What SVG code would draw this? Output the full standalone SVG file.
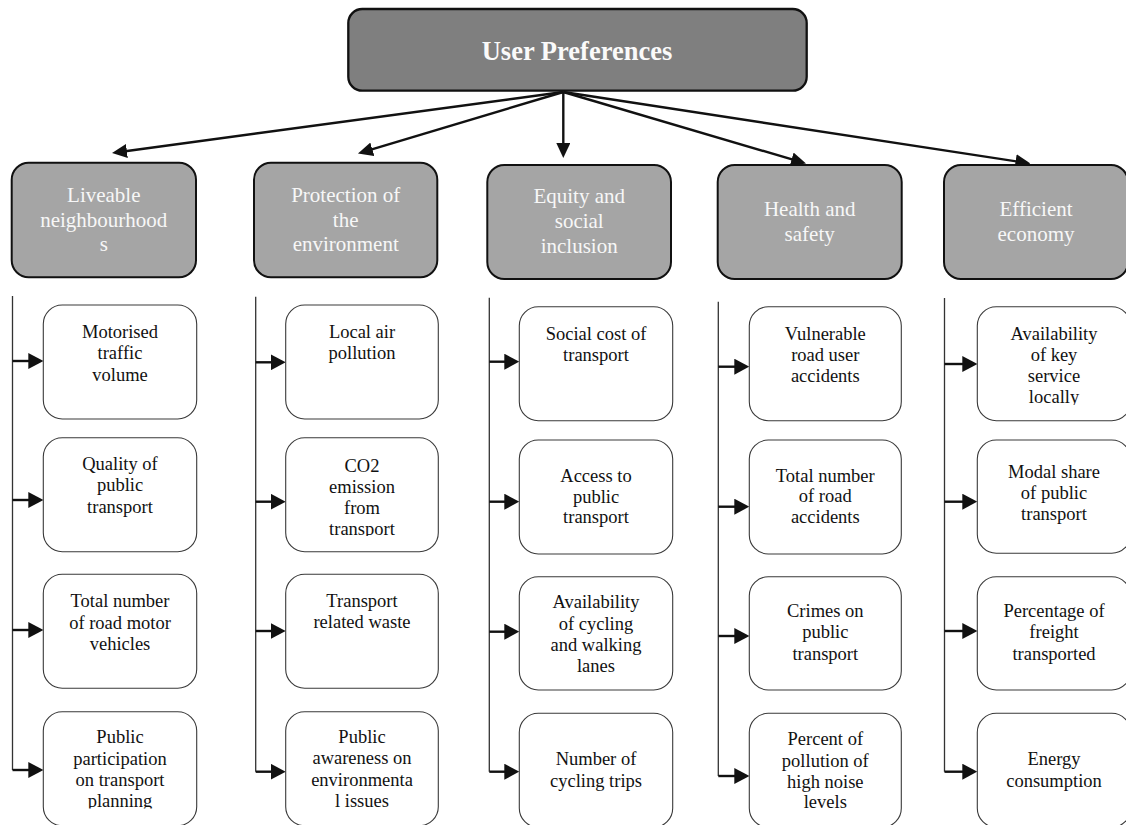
<svg xmlns="http://www.w3.org/2000/svg" width="1126" height="825" viewBox="0 0 1126 825">
<defs>
<style>
.top{fill:#7f7f7f;stroke:#111;stroke-width:2.3}
.cat{fill:#a5a5a5;stroke:#111;stroke-width:2}
.sub{fill:#fff;stroke:#3a3a3a;stroke-width:1.1}
.tt{font-family:"Liberation Serif","Times New Roman",serif;font-weight:bold;font-size:26.5px;fill:#fafafa;text-anchor:middle}
.ct{font-family:"Liberation Serif","Times New Roman",serif;font-size:21px;fill:#f7f7f7;text-anchor:middle}
.st{font-family:"Liberation Serif","Times New Roman",serif;font-size:18.5px;fill:#111;text-anchor:middle}
.main{fill:none;stroke:#111;stroke-width:2.4}
.vl{fill:none;stroke:#333;stroke-width:1.3}
.hl{fill:none;stroke:#111;stroke-width:2.4}
</style>
<marker id="ah" markerUnits="userSpaceOnUse" viewBox="0 0 15 14" markerWidth="15" markerHeight="14" refX="11" refY="7" orient="auto"><path d="M0,0 L15,7 L0,14 z" fill="#111"/></marker>
<marker id="ah2" markerUnits="userSpaceOnUse" viewBox="0 0 15 16" markerWidth="15" markerHeight="16" refX="11" refY="8" orient="auto"><path d="M0,0 L15,8 L0,16 z" fill="#111"/></marker>
<clipPath id="clipA4"><rect x="43" y="711" width="154" height="97.5"/></clipPath>
<clipPath id="clipB2"><rect x="285" y="437" width="154" height="99"/></clipPath>
<clipPath id="clipE1"><rect x="977" y="306" width="154" height="99"/></clipPath>
</defs>

<g id="connectors">
<path class="main" d="M563.3,92 L116,152.5" marker-end="url(#ah)"/>
<path class="main" d="M563.3,92 L361.8,152.4" marker-end="url(#ah)"/>
<path class="main" d="M563.3,92 L563.3,154" marker-end="url(#ah)"/>
<path class="main" d="M563.3,92 L802.2,162.4" marker-end="url(#ah)"/>
<path class="main" d="M563.3,92 L1026.5,162.9" marker-end="url(#ah)"/>

<path class="vl" d="M12.5,296 V770"/>
<path class="hl" d="M12.5,361 H39.3" marker-end="url(#ah2)"/>
<path class="hl" d="M12.5,500 H39.3" marker-end="url(#ah2)"/>
<path class="hl" d="M12.5,630 H39.3" marker-end="url(#ah2)"/>
<path class="hl" d="M12.5,770 H39.3" marker-end="url(#ah2)"/>

<path class="vl" d="M255.7,296.7 V771.7"/>
<path class="hl" d="M255.7,362.3 H281.7" marker-end="url(#ah2)"/>
<path class="hl" d="M255.7,501.7 H281.7" marker-end="url(#ah2)"/>
<path class="hl" d="M255.7,631 H281.7" marker-end="url(#ah2)"/>
<path class="hl" d="M255.7,771.7 H281.7" marker-end="url(#ah2)"/>

<path class="vl" d="M489.3,297.7 V771.7"/>
<path class="hl" d="M489.3,361.7 H515.3" marker-end="url(#ah2)"/>
<path class="hl" d="M489.3,501.7 H515.3" marker-end="url(#ah2)"/>
<path class="hl" d="M489.3,631.7 H515.3" marker-end="url(#ah2)"/>
<path class="hl" d="M489.3,771.7 H515.3" marker-end="url(#ah2)"/>

<path class="vl" d="M718.3,301.7 V776"/>
<path class="hl" d="M718.3,366.7 H745.3" marker-end="url(#ah2)"/>
<path class="hl" d="M718.3,506.7 H745.3" marker-end="url(#ah2)"/>
<path class="hl" d="M718.3,636 H745.3" marker-end="url(#ah2)"/>
<path class="hl" d="M718.3,776 H745.3" marker-end="url(#ah2)"/>

<path class="vl" d="M944.5,298 V771.7"/>
<path class="hl" d="M944.5,364 H973.3" marker-end="url(#ah2)"/>
<path class="hl" d="M944.5,501.7 H973.3" marker-end="url(#ah2)"/>
<path class="hl" d="M944.5,631 H973.3" marker-end="url(#ah2)"/>
<path class="hl" d="M944.5,771.7 H973.3" marker-end="url(#ah2)"/>
</g>

<g id="user-preferences">
<rect class="top" x="348.3" y="9" width="458.4" height="81.7" rx="14"/>
<text class="tt" x="577" y="60">User Preferences</text>
</g>

<g id="liveable">
<rect class="cat" x="11.7" y="162.7" width="184.3" height="114.6" rx="17"/>
<text class="ct"><tspan x="103.8" y="201.7">Liveable</tspan><tspan x="103.8" y="226.7">neighbourhood</tspan><tspan x="103.8" y="251">s</tspan></text>
</g>
<g id="protection">
<rect class="cat" x="254" y="162.7" width="183.3" height="114.6" rx="17"/>
<text class="ct"><tspan x="345.7" y="201.7">Protection of</tspan><tspan x="345.7" y="226.7">the</tspan><tspan x="345.7" y="251">environment</tspan></text>
</g>
<g id="equity">
<rect class="cat" x="487.3" y="165" width="183.7" height="114" rx="17"/>
<text class="ct"><tspan x="579.2" y="203.3">Equity and</tspan><tspan x="579.2" y="228.3">social</tspan><tspan x="579.2" y="253.3">inclusion</tspan></text>
</g>
<g id="health">
<rect class="cat" x="717.7" y="165" width="184" height="114" rx="17"/>
<text class="ct"><tspan x="809.7" y="215.7">Health and</tspan><tspan x="809.7" y="240.7">safety</tspan></text>
</g>
<g id="efficient">
<rect class="cat" x="944" y="165" width="184" height="114" rx="17"/>
<text class="ct"><tspan x="1036" y="215.7">Efficient</tspan><tspan x="1036" y="240.7">economy</tspan></text>
</g>

<g id="a1"><rect class="sub" x="43.3" y="305" width="153.4" height="114" rx="19"/>
<text class="st"><tspan x="120" y="338">Motorised</tspan><tspan x="120" y="359">traffic</tspan><tspan x="120" y="380.5">volume</tspan></text></g>
<g id="a2"><rect class="sub" x="43.3" y="437.7" width="153.4" height="114" rx="19"/>
<text class="st"><tspan x="120" y="470">Quality of</tspan><tspan x="120" y="491">public</tspan><tspan x="120" y="512.5">transport</tspan></text></g>
<g id="a3"><rect class="sub" x="43.3" y="574.3" width="153.4" height="114" rx="19"/>
<text class="st"><tspan x="120" y="607.3">Total number</tspan><tspan x="120" y="628.7">of road motor</tspan><tspan x="120" y="649.5">vehicles</tspan></text></g>
<g id="a4"><rect class="sub" x="43.3" y="711.7" width="153.4" height="114" rx="19"/>
<text class="st" clip-path="url(#clipA4)"><tspan x="120" y="743.3">Public</tspan><tspan x="120" y="764.5">participation</tspan><tspan x="120" y="786">on transport</tspan><tspan x="120" y="806.7">planning</tspan></text></g>

<g id="b1"><rect class="sub" x="285.7" y="305" width="152.6" height="114" rx="19"/>
<text class="st"><tspan x="362" y="338">Local air</tspan><tspan x="362" y="358.5">pollution</tspan></text></g>
<g id="b2"><rect class="sub" x="285.7" y="437.7" width="152.6" height="114" rx="19"/>
<text class="st" clip-path="url(#clipB2)"><tspan x="362" y="471.7">CO2</tspan><tspan x="362" y="492.7">emission</tspan><tspan x="362" y="514">from</tspan><tspan x="362" y="534.5">transport</tspan></text></g>
<g id="b3"><rect class="sub" x="285.7" y="574.3" width="152.6" height="114" rx="19"/>
<text class="st"><tspan x="362" y="607.3">Transport</tspan><tspan x="362" y="628.3">related waste</tspan></text></g>
<g id="b4"><rect class="sub" x="285.7" y="711.7" width="152.6" height="114" rx="19"/>
<text class="st"><tspan x="362" y="743.3">Public</tspan><tspan x="362" y="764.3">awareness on</tspan><tspan x="362" y="786">environmenta</tspan><tspan x="362" y="806.7">l issues</tspan></text></g>

<g id="c1"><rect class="sub" x="519.3" y="306.7" width="153.4" height="114" rx="19"/>
<text class="st"><tspan x="596" y="340">Social cost of</tspan><tspan x="596" y="360.5">transport</tspan></text></g>
<g id="c2"><rect class="sub" x="519.3" y="440" width="153.4" height="114" rx="19"/>
<text class="st"><tspan x="596" y="481.7">Access to</tspan><tspan x="596" y="502.7">public</tspan><tspan x="596" y="523.3">transport</tspan></text></g>
<g id="c3"><rect class="sub" x="519.3" y="576.7" width="153.4" height="113.3" rx="19"/>
<text class="st"><tspan x="596" y="608.3">Availability</tspan><tspan x="596" y="629.7">of cycling</tspan><tspan x="596" y="651">and walking</tspan><tspan x="596" y="671.7">lanes</tspan></text></g>
<g id="c4"><rect class="sub" x="519.3" y="713.3" width="153.4" height="114" rx="19"/>
<text class="st"><tspan x="596" y="765">Number of</tspan><tspan x="596" y="786.5">cycling trips</tspan></text></g>

<g id="d1"><rect class="sub" x="749.3" y="306.7" width="152" height="114" rx="19"/>
<text class="st"><tspan x="825.3" y="340">Vulnerable</tspan><tspan x="825.3" y="361">road user</tspan><tspan x="825.3" y="381.7">accidents</tspan></text></g>
<g id="d2"><rect class="sub" x="749.3" y="440" width="152" height="114" rx="19"/>
<text class="st"><tspan x="825.3" y="481.7">Total number</tspan><tspan x="825.3" y="502.3">of road</tspan><tspan x="825.3" y="522.7">accidents</tspan></text></g>
<g id="d3"><rect class="sub" x="749.3" y="576.7" width="152" height="113.3" rx="19"/>
<text class="st"><tspan x="825.3" y="616.7">Crimes on</tspan><tspan x="825.3" y="638.3">public</tspan><tspan x="825.3" y="659.7">transport</tspan></text></g>
<g id="d4"><rect class="sub" x="749.3" y="713.3" width="152" height="114" rx="19"/>
<text class="st"><tspan x="825.3" y="745">Percent of</tspan><tspan x="825.3" y="766.5">pollution of</tspan><tspan x="825.3" y="788">high noise</tspan><tspan x="825.3" y="808.3">levels</tspan></text></g>

<g id="e1"><rect class="sub" x="977.3" y="306.7" width="153.4" height="114" rx="19"/>
<text class="st" clip-path="url(#clipE1)"><tspan x="1054" y="340">Availability</tspan><tspan x="1054" y="361">of key</tspan><tspan x="1054" y="381.7">service</tspan><tspan x="1054" y="402.7">locally</tspan></text></g>
<g id="e2"><rect class="sub" x="977.3" y="440" width="153.4" height="113.3" rx="19"/>
<text class="st"><tspan x="1054" y="478.3">Modal share</tspan><tspan x="1054" y="499.3">of public</tspan><tspan x="1054" y="520">transport</tspan></text></g>
<g id="e3"><rect class="sub" x="977.3" y="576.7" width="153.4" height="113.3" rx="19"/>
<text class="st"><tspan x="1054" y="616.7">Percentage of</tspan><tspan x="1054" y="638.3">freight</tspan><tspan x="1054" y="659.7">transported</tspan></text></g>
<g id="e4"><rect class="sub" x="977.3" y="713.3" width="153.4" height="114" rx="19"/>
<text class="st"><tspan x="1054" y="765">Energy</tspan><tspan x="1054" y="786.5">consumption</tspan></text></g>
</svg>
